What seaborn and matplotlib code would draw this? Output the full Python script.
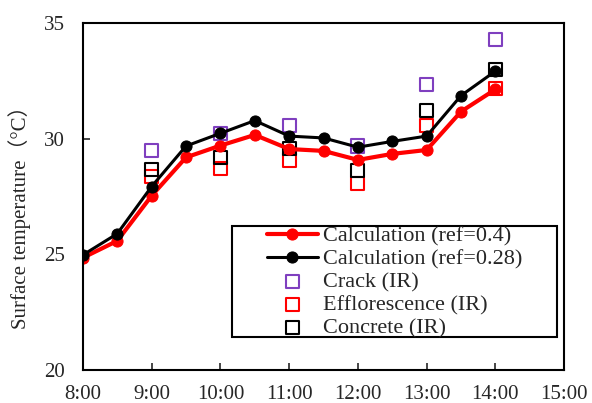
import numpy as np
import pandas as pd
import matplotlib
matplotlib.use('Agg')
import matplotlib.pyplot as plt
from matplotlib.patches import Rectangle
import seaborn as sns

sns.set_style('ticks')
plt.rcParams['font.family'] = ['Liberation Serif', 'Noto Sans CJK SC']
plt.rcParams['xtick.direction'] = 'in'
plt.rcParams['ytick.direction'] = 'in'

# calculated curves, every half hour from 8:00 to 14:00
hours_calc = [8.0, 8.5, 9.0, 9.5, 10.0, 10.5, 11.0, 11.5, 12.0, 12.5, 13.0, 13.5, 14.0]
calc_ref04 = [24.85, 25.58, 27.53, 29.19, 29.70, 30.16, 29.55, 29.47, 29.08, 29.34, 29.51, 31.17, 32.13]
calc_ref028 = [24.97, 25.89, 27.93, 29.68, 30.23, 30.78, 30.11, 30.03, 29.63, 29.88, 30.11, 31.86, 32.92]

# IR measurements, hourly
hours_ir = [9, 10, 11, 12, 13, 14]
crack_ir = [29.48, 30.23, 30.56, 29.68, 32.35, 34.29]
efflor_ir = [28.36, 28.72, 29.08, 28.07, 30.56, 32.16]
concrete_ir = [28.67, 29.19, 29.58, 28.64, 31.21, 33.00]

tick_hours = [8, 9, 10, 11, 12, 13, 14, 15]
tick_labels = ['8:00', '9:00', '10:00', '11:00', '12:00', '13:00', '14:00', '15:00']

calc_df = pd.DataFrame({'hour': hours_calc, 'ref04': calc_ref04, 'ref028': calc_ref028})
ir_df = pd.DataFrame({'hour': hours_ir, 'crack': crack_ir, 'efflor': efflor_ir, 'concrete': concrete_ir})

fig = plt.figure(figsize=(5.92, 4.03), dpi=100)
ax = fig.add_axes([0.140, 0.082, 0.813, 0.861])

sns.lineplot(data=calc_df, x='hour', y='ref04', ax=ax, color='#ff0000', lw=3,
             marker='o', markersize=8, markeredgecolor='#ff0000', label='Calculation (ref=0.4)')
sns.lineplot(data=calc_df, x='hour', y='ref028', ax=ax, color='black', lw=2.2,
             marker='o', markersize=8, markeredgecolor='black', label='Calculation (ref=0.28)')
sq = dict(marker='s', s=90, facecolors='none', linewidths=1.5)
ax.scatter(ir_df['hour'], ir_df['crack'], edgecolors='#7f3fbf', label='Crack (IR)', **sq)
ax.scatter(ir_df['hour'], ir_df['efflor'], edgecolors='#ff0000', label='Efflorescence (IR)', **sq)
ax.scatter(ir_df['hour'], ir_df['concrete'], edgecolors='black', label='Concrete (IR)', **sq)

ax.set_xlim(8, 15)
ax.set_ylim(20, 35)
ax.set_xticks(tick_hours)
ax.set_xticklabels(tick_labels)
ax.set_yticks([20, 25, 30, 35])
ax.tick_params(labelsize=15, length=5, width=1.2)
ax.tick_params(axis='x', pad=11)
ax.tick_params(axis='y', pad=13)
ax.set_xlabel('')
ax.set_ylabel('Surface temperature（°C）', fontsize=15)
ax.yaxis.set_label_coords(-0.108, 0.455)
for s in ax.spines.values():
    s.set_linewidth(1.5)
    s.set_color('black')

# legend box drawn separately: the original has wide side margins
ax.add_patch(Rectangle((0.310, 0.095), 0.675, 0.32, transform=ax.transAxes,
                       facecolor='white', edgecolor='black', lw=1.5, zorder=4))
leg = ax.legend(loc='upper left', bbox_to_anchor=(0.382, 0.415), fontsize=16,
                frameon=False, handlelength=2.3, handletextpad=0.25,
                borderpad=0, labelspacing=0.11, borderaxespad=0)
leg.set_zorder(5)

fig.savefig('out.png', dpi=100)
